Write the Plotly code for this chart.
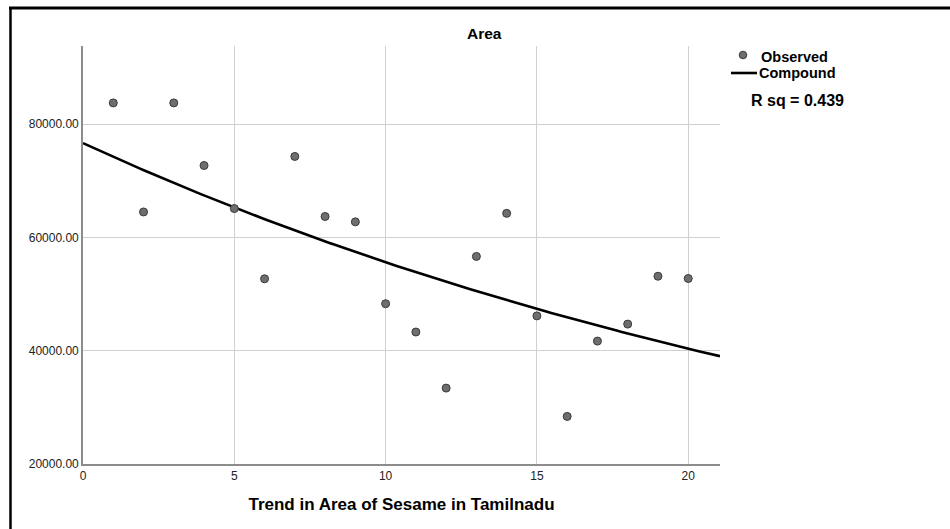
import numpy as np
import plotly.graph_objects as go

# Data
years = list(range(1, 21))
area = [83750, 64500, 83750, 72700, 65100, 52700, 74300, 63700, 62750, 48300,
        43300, 33400, 56650, 64250, 46150, 28400, 41700, 44700, 53150, 52750]
x_ticks = [0, 5, 10, 15, 20]
y_ticks = [20000, 40000, 60000, 80000]
y_tick_labels = ["20000.00", "40000.00", "60000.00", "80000.00"]
r_sq_text = "R sq = 0.439"

# Compound model y = b0 * b1^t fitted on log scale (as SPSS does)
xa = np.array(years, dtype=float)
ya = np.array(area, dtype=float)
slope, intercept = np.polyfit(xa, np.log(ya), 1)
xmax = 21.05
xc = np.linspace(0, xmax, 200)
yc = np.exp(intercept + slope * xc)

W, H = 950, 529
L, R, T, B = 83, 720, 46, 464  # plot area pixels


def px(xp):
    return (xp - L) / (R - L)


def py(yp):
    return (B - yp) / (B - T)


fig = go.Figure()
fig.add_trace(go.Scatter(
    x=xc, y=yc, mode="lines", line=dict(color="black", width=2.6),
    name="Compound", showlegend=False, hoverinfo="skip"))
fig.add_trace(go.Scatter(
    x=years, y=area, mode="markers",
    marker=dict(size=8, color="#6e6e6e", line=dict(color="#3a3a3a", width=1)),
    name="Observed", showlegend=False))

font_family = "Liberation Sans, Arial, sans-serif"

fig.update_layout(
    width=W, height=H,
    margin=dict(l=L, r=W - R, t=T, b=H - B),
    paper_bgcolor="white", plot_bgcolor="white",
    showlegend=False,
    font=dict(family=font_family, color="#222222", size=12),
    xaxis=dict(
        range=[0, xmax], tickvals=x_ticks, ticktext=[str(v) for v in x_ticks],
        showgrid=True, gridcolor="#d0d0d0", gridwidth=1.4,
        zeroline=False, showline=True, linecolor="#8c8c8c", linewidth=1.6,
        ticks="", tickfont=dict(size=12, color="#222222"),
        title=dict(text="<b>Trend in Area of Sesame in Tamilnadu</b>",
                   font=dict(size=17, color="black"), standoff=16),
    ),
    yaxis=dict(
        range=[20000, 93800], tickvals=y_ticks, ticktext=y_tick_labels,
        showgrid=True, gridcolor="#d0d0d0", gridwidth=1.4,
        zeroline=False, showline=True, linecolor="#8c8c8c", linewidth=1.6,
        ticks="", tickfont=dict(size=12, color="#222222"),
    ),
)

shapes = [
    # outer frame (top and left)
    dict(type="line", xref="paper", yref="paper", x0=px(9), x1=px(950),
         y0=py(8), y1=py(8), line=dict(color="black", width=3)),
    dict(type="line", xref="paper", yref="paper", x0=px(10.5), x1=px(10.5),
         y0=py(7), y1=py(529), line=dict(color="black", width=2.5)),
    # legend symbols
    dict(type="circle", xref="paper", yref="paper",
         x0=px(739.2), x1=px(746.8), y0=py(58.8), y1=py(51.2),
         fillcolor="#6e6e6e", line=dict(color="#3a3a3a", width=1)),
    dict(type="line", xref="paper", yref="paper", x0=px(731), x1=px(757),
         y0=py(73), y1=py(73), line=dict(color="black", width=2.6)),
]
fig.update_layout(shapes=shapes)

annotations = [
    dict(text="<b>Area</b>", x=px(484), y=py(33), xref="paper", yref="paper",
         showarrow=False, xanchor="center", yanchor="middle",
         font=dict(size=15.5, color="black")),
    dict(text="<b>Observed</b>", x=px(759), y=py(57), xref="paper", yref="paper",
         showarrow=False, xanchor="left", yanchor="middle",
         font=dict(size=14.5, color="black")),
    dict(text="<b>Compound</b>", x=px(757), y=py(73), xref="paper", yref="paper",
         showarrow=False, xanchor="left", yanchor="middle",
         font=dict(size=14.5, color="black")),
    dict(text="<b>" + r_sq_text + "</b>", x=px(749), y=py(100), xref="paper",
         yref="paper", showarrow=False, xanchor="left", yanchor="middle",
         font=dict(size=16, color="black")),
]
fig.update_layout(annotations=annotations)

fig.write_html(
    "out.html",
    config={"displayModeBar": False},
    post_script="document.body.style.margin='0';document.body.style.overflow='hidden';",
)
